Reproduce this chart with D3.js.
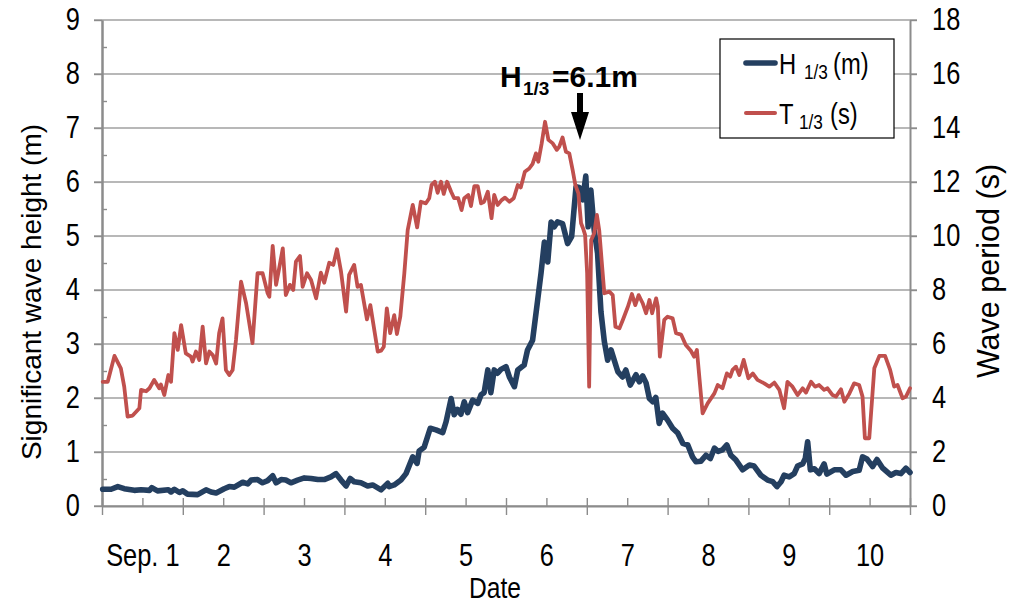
<!DOCTYPE html>
<html>
<head>
<meta charset="utf-8">
<script src="https://cdn.jsdelivr.net/npm/d3@7/dist/d3.min.js"></script>
<style>
  body { margin: 0; background: #fff; }
  text { font-family: "Liberation Sans", Arial, sans-serif; fill: #000; }
</style>
</head>
<body>
<svg id="chart" width="1021" height="604"></svg>
<script>
// hours since Sep. 1 00:00, and significant wave height H1/3 (m)
const hHours = [0.2, 2.7, 4.7, 6.6, 9.6, 11.6, 14.1, 14.8, 16.5, 19.7, 20.5, 21.5, 23, 24, 25.4, 28.4, 30.9, 32.4, 33.9, 36.3,
  37.8, 39.3, 41.8, 43.3, 44.3, 46.2, 47.7, 49.2, 50.7, 51.7, 53.2, 54.6, 56.1, 58.1, 60.1, 62.1, 64.1, 66, 68, 69.5,
  71, 72.5, 73.7, 74.9, 76.9, 78.9, 80.4, 82.9, 84.9, 85.3, 86.8, 88.8, 90.3, 92.3, 93.6, 94.2, 95.7, 97.5, 99.2, 101.2,
  102.2, 103.7, 104.6, 105.6, 106.6, 107.6, 108.6, 110.1, 111.6, 112.6, 113.5, 114.6, 115.5, 116.5, 117.5, 118.5, 120, 121, 122.5, 123.5,
  125.4, 126.4, 127.9, 129.4, 130.4, 131.4, 132.4, 133.4, 134.3, 135.3, 136.8, 138.3, 139.5, 140.8, 141.8, 142.8, 143.7, 144.4, 145.2, 146.2,
  147.2, 148.2, 149.2, 150.2, 151.2, 153.2, 154.6, 155.6, 156.9, 158.6, 159.6, 160.6, 161.6, 162.6, 163.6, 164.5, 165.5, 166.5, 168, 169.5,
  171, 172.5, 174, 175.4, 176.4, 177.9, 179.4, 180.7, 181.9, 183, 184.3, 185.6, 186.8, 188.3, 190.3, 192.3, 193.7, 195.7, 197.7, 199.2,
  200.5, 201.7, 202.6, 204.1, 205.6, 206.6, 208.1, 208.9, 209.6, 210.4, 211.6, 213, 214.5, 215.3, 217.5, 219.5, 221, 223, 224.9, 225.9,
  227.2, 228.9, 230.2, 231.9, 234.3, 235.8, 237.3, 238.8, 240];
const hValues = [0.31, 0.31, 0.36, 0.32, 0.29, 0.30, 0.29, 0.34, 0.28, 0.30, 0.26, 0.31, 0.25, 0.28, 0.22, 0.21, 0.30, 0.26, 0.24, 0.32,
  0.36, 0.35, 0.44, 0.41, 0.48, 0.49, 0.43, 0.47, 0.56, 0.43, 0.49, 0.48, 0.43, 0.48, 0.52, 0.51, 0.49, 0.49, 0.54, 0.60,
  0.48, 0.37, 0.51, 0.45, 0.43, 0.37, 0.39, 0.30, 0.42, 0.36, 0.39, 0.48, 0.60, 0.91, 0.79, 1.02, 1.09, 1.44, 1.41, 1.36,
  1.56, 1.99, 1.69, 1.79, 1.70, 1.93, 1.73, 1.96, 1.90, 2.06, 2.10, 2.52, 2.10, 2.52, 2.46, 2.53, 2.58, 2.39, 2.21, 2.52,
  2.61, 2.89, 3.07, 3.81, 4.31, 4.89, 4.52, 5.26, 5.17, 5.26, 5.23, 4.86, 4.99, 5.91, 5.90, 5.67, 6.11, 5.17, 5.85, 5.11,
  4.68, 3.60, 3.05, 2.70, 2.89, 2.49, 2.39, 2.52, 2.24, 2.43, 2.30, 2.41, 2.28, 1.99, 1.93, 2.01, 1.53, 1.72, 1.59, 1.44,
  1.35, 1.16, 1.13, 0.91, 0.82, 0.83, 0.94, 0.88, 1.07, 1.01, 1.04, 1.13, 0.94, 0.85, 0.67, 0.76, 0.74, 0.57, 0.48, 0.45,
  0.36, 0.45, 0.57, 0.54, 0.60, 0.74, 0.78, 0.88, 1.19, 0.67, 0.69, 0.60, 0.78, 0.59, 0.67, 0.67, 0.57, 0.64, 0.66, 0.91,
  0.87, 0.73, 0.86, 0.70, 0.57, 0.62, 0.60, 0.70, 0.62];

// hours since Sep. 1 00:00, and significant wave period T1/3 (s)
const tHours = [0.2, 1.7, 3.7, 5.6, 6.6, 7.6, 9.1, 11.1, 11.6, 13.1, 14.1, 15.5, 17, 17.5, 18.5, 19.7, 20.5, 21.5, 22.5, 23.5,
  24.9, 26.4, 26.9, 27.9, 28.9, 29.9, 30.9, 31.9, 32.9, 33.9, 34.8, 35.8, 36.8, 37.8, 38.8, 39.8, 41.3, 42.8, 44.7, 46.2,
  47.7, 49.2, 49.7, 50.7, 51.7, 52.7, 53.7, 54.6, 55.8, 56.8, 57.6, 58.8, 59.6, 60.9, 62.1, 63.6, 65, 66, 67.5, 68.7,
  69.8, 71, 72.5, 73.4, 74.9, 75.9, 76.9, 78.7, 79.7, 81.9, 82.9, 83.7, 84.6, 85.6, 86.8, 87.6, 88.6, 89.8, 90.8, 92.3,
  93.6, 94.7, 96.2, 97.2, 97.9, 98.9, 99.7, 100.7, 101.5, 102.5, 103.7, 104.6, 105.8, 106.8, 107.6, 108.8, 109.6, 110.6, 111.6, 112.6,
  113.5, 114.6, 115.7, 116.5, 117.5, 118.7, 119.7, 121, 122.3, 123.5, 124.4, 125.6, 126.9, 127.9, 128.9, 129.6, 130.6, 131.6, 132.6, 133.9,
  135.1, 135.8, 136.8, 137.8, 138.8, 139.8, 140.6, 141.5, 142.3, 142.9, 143.5, 144.1, 144.7, 145.3, 146.2, 147, 147.7, 148.4, 149.2, 150.7,
  151.7, 152.5, 153.7, 154.7, 156.2, 157.4, 158.4, 159.4, 160.6, 161.6, 162.6, 163.4, 164.6, 165.1, 165.7, 167, 168, 169.5, 170.5, 172,
  173.4, 174.9, 175.9, 176.7, 178.4, 179.9, 181.9, 182.9, 184.3, 185.6, 186.6, 187.3, 188.3, 189.3, 190.6, 192, 193.3, 194.7, 196.7, 198.2,
  199.7, 201.2, 202.6, 203.6, 205.1, 206.6, 208.1, 209.1, 210.6, 211.8, 213, 214.5, 215.5, 217, 218, 219.5, 220.5, 222, 223.4, 224.9,
  225.9, 226.6, 227.9, 229.4, 230.9, 232.6, 234.1, 235.3, 236.3, 237.8, 238.8, 240];
const tValues = [4.60, 4.60, 5.56, 5.10, 4.42, 3.31, 3.35, 3.62, 4.30, 4.25, 4.36, 4.67, 4.36, 4.50, 4.11, 4.85, 4.60, 6.40, 5.78, 6.70,
  5.65, 5.53, 5.35, 5.72, 5.41, 6.64, 5.28, 5.72, 5.59, 5.28, 6.40, 6.95, 5.04, 4.85, 5.04, 6.15, 8.31, 7.51, 6.03, 8.62,
  8.62, 7.88, 7.75, 9.63, 8.19, 8.86, 9.54, 7.81, 8.19, 8.00, 9.05, 9.26, 8.12, 8.62, 8.37, 7.69, 8.64, 8.27, 9.01, 8.93,
  9.51, 8.68, 7.20, 8.56, 8.93, 8.12, 8.19, 6.91, 7.44, 5.72, 5.75, 5.90, 7.32, 6.40, 7.07, 6.37, 7.01, 8.62, 10.22, 11.15,
  10.32, 11.27, 11.21, 11.40, 11.89, 12.01, 11.60, 12.01, 11.56, 12.01, 11.64, 11.40, 11.40, 10.96, 11.40, 11.52, 11.11, 11.85, 11.85, 11.21,
  11.27, 11.64, 10.66, 11.52, 11.15, 11.33, 11.42, 11.27, 11.40, 11.89, 11.80, 12.38, 12.50, 12.67, 13.06, 12.75, 13.43, 14.23, 13.56, 13.43,
  13.19, 13.30, 13.65, 13.12, 13.06, 12.44, 11.89, 11.58, 10.47, 10.28, 10.04, 8.62, 4.42, 9.85, 10.10, 10.78, 10.20, 9.11, 7.88, 7.94,
  7.81, 6.64, 6.58, 6.89, 7.38, 7.85, 7.44, 7.81, 7.51, 7.14, 7.63, 7.14, 7.69, 7.38, 5.53, 6.89, 7.01, 6.95, 6.40, 6.35,
  5.96, 5.75, 5.53, 5.78, 3.43, 3.80, 4.17, 4.48, 4.36, 4.91, 4.79, 5.04, 5.16, 4.85, 5.41, 4.73, 4.91, 4.67, 4.54, 4.42,
  4.57, 4.30, 3.62, 4.60, 4.42, 4.11, 4.36, 4.20, 4.60, 4.42, 4.48, 4.30, 4.36, 4.11, 4.05, 4.32, 3.86, 4.17, 4.54, 4.48,
  4.05, 2.51, 2.51, 5.10, 5.56, 5.56, 5.04, 4.42, 4.48, 3.99, 4.05, 4.36];

const dayLabels = ["Sep. 1", "2", "3", "4", "5", "6", "7", "8", "9", "10"];
const leftTicks = [0, 1, 2, 3, 4, 5, 6, 7, 8, 9];
const rightTicks = [0, 2, 4, 6, 8, 10, 12, 14, 16, 18];

const svg = d3.select("#chart");
const plotLeft = 102, plotRight = 910, plotTop = 20, plotBottom = 506;
const sx = 0.82; // horizontal squeeze, the source used a narrow face

const x = d3.scaleLinear().domain([0, 240]).range([plotLeft, plotRight]);
const yL = d3.scaleLinear().domain([0, 9]).range([plotBottom, plotTop]);
const yR = d3.scaleLinear().domain([0, 18]).range([plotBottom, plotTop]);

const grey = "#8c8c8c";

// gridlines
svg.append("g").selectAll("line")
  .data(leftTicks)
  .enter().append("line")
  .attr("x1", plotLeft - 8).attr("x2", plotRight + 7)
  .attr("y1", d => yL(d)).attr("y2", d => yL(d))
  .attr("stroke", "#a0a0a0").attr("stroke-width", 1.4);

function styleAxis(g) {
  g.selectAll("path.domain").attr("stroke", grey).attr("stroke-width", 2);
  g.selectAll(".tick line").attr("stroke", grey).attr("stroke-width", 1.4);
  g.selectAll("text")
    .attr("font-size", 31).attr("fill", "#000")
    .attr("font-family", "'Liberation Sans', Arial, sans-serif")
    .attr("x", function() { return (+this.getAttribute("x") || 0) / sx; })
    .attr("transform", `scale(${sx},1)`);
}

// left axis
svg.append("g").attr("transform", `translate(${plotLeft},0)`)
  .call(d3.axisLeft(yL).tickValues(leftTicks).tickSize(8).tickPadding(14).tickSizeOuter(0))
  .call(styleAxis);
svg.append("g").attr("transform", `translate(${plotLeft},0)`)
  .call(d3.axisRight(yL).tickValues(leftTicks.slice(0, -1).map(d => d + 0.5)).tickSize(5).tickFormat("").tickSizeOuter(0))
  .call(styleAxis);

// right axis
svg.append("g").attr("transform", `translate(${plotRight},0)`)
  .call(d3.axisRight(yR).tickValues(rightTicks).tickSize(7).tickPadding(15).tickSizeOuter(0))
  .call(styleAxis);

// bottom axis: long ticks at day boundaries, short ticks at noon
const dayStarts = d3.range(0, 241, 24);
const halfDays = d3.range(0, 241, 12);
svg.append("g").attr("transform", `translate(0,${plotBottom})`)
  .call(d3.axisBottom(x).tickValues(dayStarts).tickSize(9).tickFormat("").tickSizeOuter(0))
  .call(styleAxis);
svg.append("g").attr("transform", `translate(0,${plotBottom})`)
  .call(d3.axisTop(x).tickValues(halfDays).tickSize(8).tickFormat("").tickSizeOuter(0))
  .call(styleAxis)
  .call(g => g.select("path.domain").remove());
svg.append("g").attr("transform", `translate(0,${plotBottom})`)
  .call(d3.axisBottom(x).tickValues(dayStarts.slice(0, -1).map(d => d + 12)).tickSize(0).tickPadding(38)
    .tickFormat((d, i) => dayLabels[i]))
  .call(styleAxis)
  .call(g => g.select("path.domain").remove());

// axis titles
svg.append("text")
  .attr("transform", "translate(41,292) rotate(-90)")
  .attr("text-anchor", "middle").attr("font-size", 28)
  .text("Significant wave height (m)");
svg.append("text")
  .attr("transform", "translate(999,271) rotate(-90)")
  .attr("text-anchor", "middle").attr("font-size", 30.5)
  .text("Wave period (s)");
svg.append("text")
  .attr("transform", `scale(${sx},1)`)
  .attr("x", 495 / sx).attr("y", 598)
  .attr("text-anchor", "middle").attr("font-size", 30)
  .text("Date");

// series (wave period is drawn over wave height, as on a secondary axis)
const lineH = d3.line().x((d, i) => x(hHours[i])).y(d => yL(d));
const lineT = d3.line().x((d, i) => x(tHours[i])).y(d => yR(d));

svg.append("path").datum(hValues)
  .attr("d", lineH)
  .attr("fill", "none").attr("stroke", "#243f60").attr("stroke-width", 5.6)
  .attr("stroke-linejoin", "round").attr("stroke-linecap", "round");
svg.append("path").datum(tValues)
  .attr("d", lineT)
  .attr("fill", "none").attr("stroke", "#c0504d").attr("stroke-width", 3.8)
  .attr("stroke-linejoin", "round").attr("stroke-linecap", "round");

// legend
const legend = svg.append("g");
legend.append("rect").attr("x", 720).attr("y", 39).attr("width", 174).attr("height", 99)
  .attr("fill", "#fff").attr("stroke", "#000").attr("stroke-width", 1.2);
const legendItems = [
  { name: "H", unit: "(m)", color: "#243f60", width: 5.6, y: 63, subX: 804, unitX: 833 },
  { name: "T", unit: "(s)", color: "#c0504d", width: 4, y: 113, subX: 799, unitX: 830 }
];
legendItems.forEach(it => {
  legend.append("line").attr("x1", 746).attr("x2", 775).attr("y1", it.y).attr("y2", it.y)
    .attr("stroke", it.color).attr("stroke-width", it.width).attr("stroke-linecap", "round");
  const t = legend.append("text").attr("transform", `scale(${sx},1)`)
    .attr("y", it.y + 11.5).attr("font-size", 29);
  t.append("tspan").attr("x", 779 / sx).text(it.name);
  t.append("tspan").attr("x", it.subX / sx).attr("dy", 5).attr("font-size", 21).text("1/3");
  t.append("tspan").attr("x", it.unitX / sx).attr("dy", -5).text(it.unit);
});

// peak annotation
const note = svg.append("text").attr("y", 87)
  .attr("font-size", 30).attr("font-weight", "bold");
note.append("tspan").attr("x", 500).text("H");
note.append("tspan").attr("x", 523).attr("dy", 8).attr("font-size", 19).text("1/3");
note.append("tspan").attr("x", 552).attr("dy", -8).text("=6.1m");

const ax = 580;
svg.append("path")
  .attr("d", `M${ax - 3},93 H${ax + 3} V112 H${ax + 9} L${ax},140 L${ax - 9},112 H${ax - 3} Z`)
  .attr("fill", "#000");
</script>
</body>
</html>
